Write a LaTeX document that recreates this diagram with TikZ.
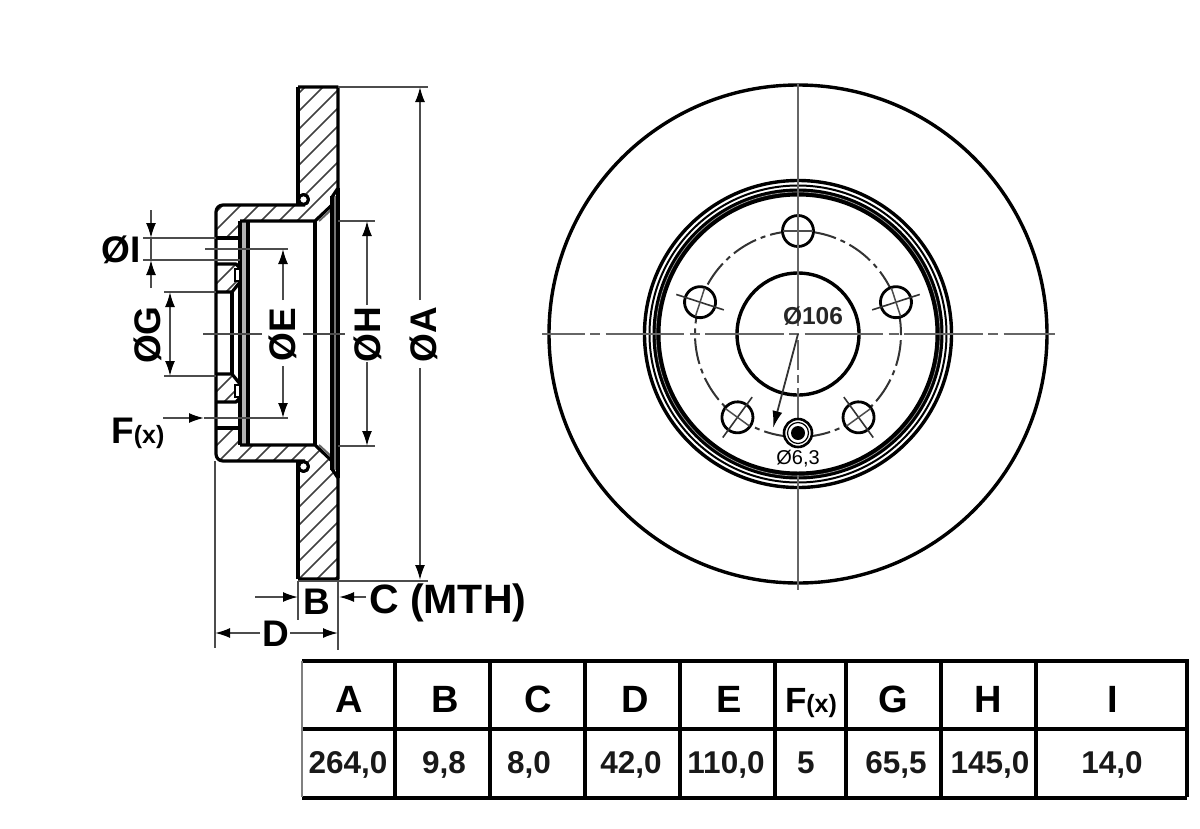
\documentclass[tikz,border=0pt]{standalone}
\usepackage{fontspec}
\setmainfont{Liberation Sans}
\usetikzlibrary{arrows.meta}

\tikzset{
  heavy/.style={line width=3.2pt,black,line join=round},
  thinline/.style={line width=1.8pt,black!70},
  hatchline/.style={line width=1.5pt,black!75},
  dimline/.style={line width=1.8pt,black!70,-{Latex[length=15pt,width=10pt,black]}},
  dimlabel/.style={font=\fontsize{37}{37}\selectfont\bfseries,inner sep=0pt},
  headcell/.style={font=\fontsize{38}{38}\selectfont\bfseries,inner sep=0pt,anchor=base},
  valcell/.style={font=\fontsize{31.5}{31.5}\selectfont\bfseries,inner sep=0pt,anchor=base,black!90},
  centerline/.style={line width=2.4pt,black!60,dash pattern=on 78.5pt off 5.5pt on 10pt off 5.5pt,dash phase=36pt}
}

\begin{document}
\begin{tikzpicture}[x=1pt,y=-1pt]
\useasboundingbox (0,0) rectangle (1200,828);

% hatching of the cut
\begin{scope}
\clip (298,87) -- (338,87) -- (338,188) -- (332,197) -- (332,205) -- (315,221) -- (240,221) -- (240,238) -- (216,238) -- (216,205) -- (298,205) -- cycle
      (216,264) -- (240,264) -- (240,282) -- (232,292) -- (216,292) -- cycle
      (216,374) -- (232,374) -- (240,384) -- (240,402) -- (216,402) -- cycle
      (216,428) -- (240,428) -- (240,445) -- (315,445) -- (332,461) -- (332,469) -- (338,478) -- (338,579) -- (298,579) -- (298,461) -- (216,461) -- cycle;
\foreach \k in {0,...,31} \draw[hatchline] (0,{392+\k*18}) -- ({392+\k*18},0);
\end{scope}

% section outline
\fill[black!30] (240,221) rectangle (248,445);
\fill[black!55] (332,196) rectangle (338,470);
\draw[heavy] (298,87) -- (338,87) -- (338,188) -- (332,197);
\draw[heavy] (298,579) -- (338,579) -- (338,478) -- (332,469);
\draw[heavy] (332,205) -- (315,221) -- (240,221);
\draw[heavy] (332,461) -- (315,445) -- (240,445);
\draw[line width=2pt,black!60] (332,209) -- (319,221);
\draw[line width=2pt,black!60] (332,457) -- (319,445);
\draw[heavy] (298,87) -- (298,205);
\draw[heavy] (298,579) -- (298,461);
\draw[heavy,fill=white] (303.5,199.5) circle (5pt);
\draw[heavy,fill=white] (303.5,466.5) circle (5pt);
\draw[heavy,rounded corners=7pt] (305,205) -- (216,205) -- (216,461) -- (305,461);
\draw[heavy] (216,238) -- (240,238);
\draw[heavy] (216,264) -- (236,264) -- (240,268) -- (240,282) -- (232,292) -- (216,292);
\draw[heavy] (216,402) -- (236,402) -- (240,398) -- (240,384) -- (232,374) -- (216,374);
\draw[heavy] (216,428) -- (240,428);
\draw[heavy] (232,292) -- (232,374);
\draw[heavy] (240,221) -- (240,445);
\draw[heavy] (248,221) -- (248,445);
\draw[heavy] (315,221) -- (315,445);
\draw[heavy] (332,196) -- (332,470);
\draw[heavy] (338,188) -- (338,478);
\draw[line width=2.4pt,fill=white] (235,269) rectangle (240,281);
\draw[line width=2.4pt,fill=white] (235,385) rectangle (240,397);

% extension and center lines
\draw[thinline] (143,238) -- (216,238);
\draw[thinline] (143,260) -- (240,260);
\draw[thinline] (205,249) -- (288,249);
\draw[thinline] (164,292) -- (216,292);
\draw[thinline] (164,376) -- (216,376);
\draw[thinline] (338,221) -- (375,221);
\draw[thinline] (338,446) -- (375,446);
\draw[thinline] (338,87) -- (428,87);
\draw[thinline] (298,581) -- (428,581);
\draw[thinline] (203,334) -- (262,334);
\draw[thinline] (303,334) -- (345,334);
\draw[thinline] (298,581) -- (298,620);
\draw[thinline] (338,581) -- (338,650);
\draw[thinline] (215,461) -- (215,648);

% dimensions
\draw[thinline] (151,238) -- (151,260);
\draw[dimline] (151,210) -- (151,238);
\draw[dimline] (151,288) -- (151,260);
\draw[dimline,{Latex[length=15pt,width=10pt,black]}-{Latex[length=15pt,width=10pt,black]}] (170,292) -- (170,376);
\draw[dimline] (283,300) -- (283,249);
\draw[dimline] (283,366) -- (283,418);
\draw[dimline] (367,305) -- (367,221);
\draw[dimline] (367,362) -- (367,446);
\draw[dimline] (420,300) -- (420,87);
\draw[dimline] (420,368) -- (420,580);
\draw[dimline] (163,418) -- (204,418);
\draw[thinline] (204,418) -- (288,418);
\draw[dimline] (255,597) -- (298,597);
\draw[dimline] (366,597) -- (339,597);
\draw[dimline] (260,633) -- (215,633);
\draw[dimline] (290,633) -- (338,633);

\node[dimlabel] (diaI) at (121,250) {ØI};
\node[dimlabel,rotate=90] (diaG) at (148,335) {ØG};
\node[dimlabel,rotate=90] (diaE) at (283,335) {ØE};
\node[dimlabel,rotate=90] (diaH) at (368,335) {ØH};
\node[dimlabel,rotate=90] (diaA) at (424,335) {ØA};
\node[dimlabel,anchor=base west] (labF) at (111,443) {F\fontsize{25}{25}\selectfont(x)};
\node[dimlabel] (labB) at (317,602) {B};
\node[dimlabel,anchor=west,font=\fontsize{41}{41}\selectfont\bfseries] (labC) at (369,603) {C (MTH)};
\node[dimlabel] (labD) at (276,634) {D};

% front view
\draw[line width=3.4pt] (798,334) circle (249pt);
\draw[line width=3.4pt] (798,334) circle (153.5pt);
\draw[line width=2pt] (798,334) circle (148.5pt);
\draw[line width=8pt] (798,334) circle (141.5pt);
\draw[line width=.7pt,black!40] (798,334) circle (142pt);
\draw[line width=3.4pt] (798,334) circle (61pt);
\draw[line width=2pt,black!80,dash pattern=on 26pt off 5pt on 5pt off 5pt] (798,334) circle (103pt);

\draw[centerline] (542,334) -- (1055,334);
\draw[line width=2.4pt,black!60,dash pattern=on 30pt off 5pt on 8pt off 5pt] (798,340) -- (798,420);
\draw[line width=2.4pt,black!60] (798,475) -- (798,590);

% bolt holes
\foreach \ang in {90,162,18,234,306} {
  \begin{scope}[shift={(798,334)},rotate=\ang]
  \draw[line width=2.8pt,fill=white] (103,0) circle (15.5pt);
  \draw[line width=1.6pt,black!80] (78,0) -- (128,0);
  \draw[line width=1.5pt,black!70] (103,-15) -- (103,15);
  \end{scope}
}
\draw[line width=2.4pt,black!60] (798,84) -- (798,326);

\draw[line width=2.6pt,fill=white] (798,433) circle (14pt);
\draw[line width=1.2pt] (798,433) circle (10.5pt);
\fill (798,433) circle (7pt);

\draw[line width=1.8pt,black!80,-{Latex[length=17pt,width=10pt,black]}] (798,334) -- (773,428);
\node[font=\fontsize{24.5}{24.5}\selectfont\bfseries,inner sep=0pt,black!85] (holeD) at (813,316) {Ø106};
\node[font=\fontsize{20}{20}\selectfont,inner sep=0pt,black] (pinD) at (798,459) {Ø6,3};

% table
\draw[line width=3.2pt] (302,661) -- (1187,661) -- (1187,797);
\draw[line width=3.2pt] (302,729) -- (1187,729);
\draw[line width=4pt] (302,798) -- (1187,798);
\draw[line width=1.2pt,black!50] (302,661) -- (302,797);
\foreach \xx in {395,490,585,680,775,846,941,1036} \draw[line width=3.2pt] (\xx,661) -- (\xx,797);

\foreach \nm/\xx/\hd/\vx/\vl in {a/349/A/348/{264,0},b/445/B/444/{9,8},c/538/C/529/{8,0},d/635/D/631/{42,0},e/729/E/726/{110,0},g/893/G/896/{65,5},h/988/H/990/{145,0},i/1113/I/1112/{14,0}} {
  \node[headcell] (head\nm) at (\xx,712) {\hd};
  \node[valcell] (val\nm) at (\vx,773) {\vl};
}
\node[headcell,font=\fontsize{35}{35}\selectfont\bfseries] (headf) at (811,712) {F\fontsize{25}{25}\selectfont(x)};
\node[valcell] (valf) at (806,773) {5};
\end{tikzpicture}
\end{document}
